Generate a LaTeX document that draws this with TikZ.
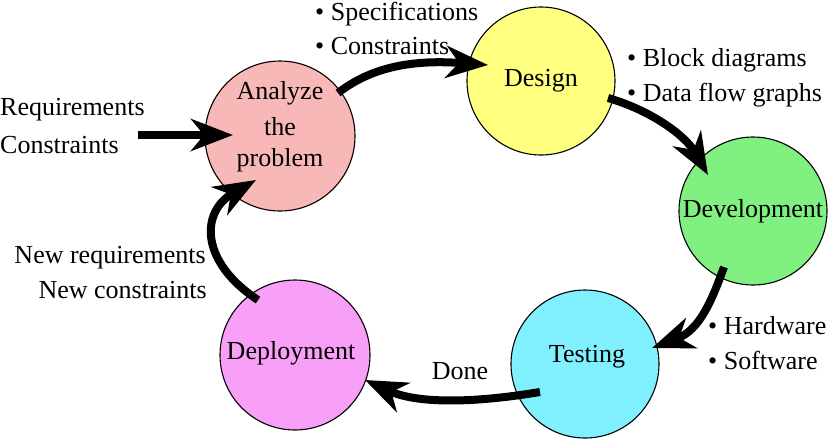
\documentclass[tikz,border=0pt]{standalone}
\usepackage{fontspec}
\setmainfont{Liberation Serif}
\usetikzlibrary{arrows.meta}
\definecolor{cpink}{HTML}{F8B8B8}
\definecolor{cyel}{HTML}{FFFF80}
\definecolor{cgreen}{HTML}{80F080}
\definecolor{ccyan}{HTML}{80F0FF}
\definecolor{cmag}{HTML}{F8A0F8}
\tikzset{
  stage/.style={circle, draw=black, line width=1.1pt, minimum size=150pt, inner sep=0pt, font=\fontsize{26}{30}\selectfont, align=center},
  lbl/.style={inner sep=0pt, font=\fontsize{26}{30}\selectfont},
  flow/.style={line width=8pt, -{Stealth[length=42pt,width=32pt,inset=13pt]}},
}
\begin{document}
\begin{tikzpicture}[x=1pt,y=-1pt]
\useasboundingbox (0,0) rectangle (828,440);
\node[stage, fill=cpink] (an) at (280,136) {};
\node[lbl] (an1) at (280,93) {Analyze};
\node[lbl] (an2) at (280,127) {the};
\node[lbl] (an3) at (280,160) {problem};
\node[stage, fill=cyel, minimum size=148pt] (de) at (541,81) {Design};
\node[stage, fill=cgreen, minimum size=148pt] (dv) at (753,211) {Development};
\node[stage, fill=ccyan, minimum size=148pt] (te) at (585,364) {};
\node[lbl] (tet) at (587,357) {Testing};
\node[stage, fill=cmag] (dp) at (295,355) {};
\node[lbl] (dpt) at (291,353) {Deployment};

\node[lbl, anchor=west] (r1) at (0,110) {Requirements};
\node[lbl, anchor=west] (r2) at (0,145) {Constraints};
\coordinate (inp) at (138,135);

\node[lbl, anchor=west] (s1) at (315,14) {• Specifications};
\node[lbl, anchor=west] (s2) at (315,46) {• Constraints};
\node[lbl, anchor=west] (b1) at (627,60) {• Block diagrams};
\node[lbl, anchor=west] (b2) at (627,95) {• Data flow graphs};
\node[lbl, anchor=west] (h1) at (708,326) {• Hardware};
\node[lbl, anchor=west] (h2) at (708,360) {• Software};
\node[lbl, anchor=east] (n1) at (206,258) {New requirements};
\node[lbl, anchor=east] (n2) at (207,290) {New constraints};
\node[lbl] (done) at (460,371) {Done};

\draw[flow] (inp) -- ([shift={(-47,-1)}]an.center);
\draw[flow] ([shift={(58,-43)}]an.center) .. controls (375,64) and (420,60) .. ([shift={(-53,-16)}]de.center);
\draw[flow] ([shift={(67,17)}]de.center) .. controls (650,110) and (685,135) .. ([shift={(-45,-36)}]dv.center);
\draw[flow] ([shift={(-29,56)}]dv.center) .. controls (712,300) and (700,330) .. ([shift={(67,-16)}]te.center);
\draw[flow] ([shift={(-45,28)}]te.center) .. controls (480,402) and (420,405) .. ([shift={(70,25)}]dp.center);
\draw[flow] ([shift={(-37,-55)}]dp.center) .. controls (200,262) and (200,212) .. ([shift={(-24,44)}]an.center);
\end{tikzpicture}
\end{document}
